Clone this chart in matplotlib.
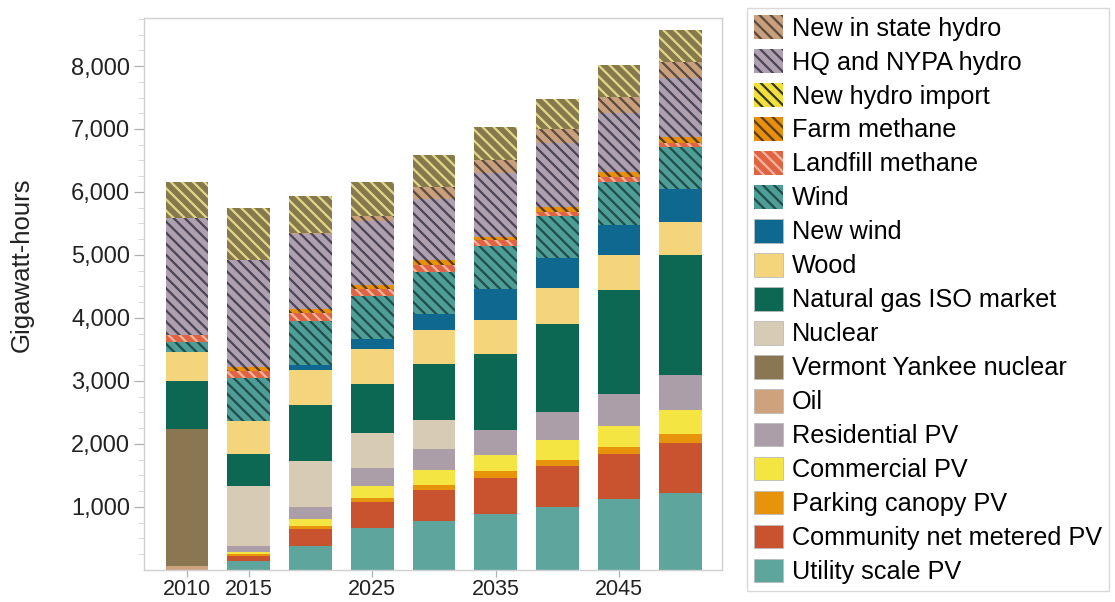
import matplotlib
matplotlib.use("Agg")
import matplotlib.pyplot as plt
from matplotlib.patches import Patch
import numpy as np

plt.rcParams['font.family'] = ['Liberation Sans', 'DejaVu Sans']
plt.rcParams['hatch.linewidth'] = 1.6

years = [2010, 2015, 2020, 2025, 2030, 2035, 2040, 2045, 2050]
tick_years = [2010, 2015, 2025, 2035, 2045]

# GWh per source, bottom of the stack first
utility = [0, 138, 386, 661, 770, 888, 1005, 1123, 1223]
community = [0, 90, 265, 413, 494, 570, 647, 717, 793]
parking = [0, 26, 42, 64, 88, 106, 100, 106, 147]
commercial = [0, 37, 117, 200, 235, 258, 317, 346, 382]
residential = [0, 95, 185, 281, 341, 400, 435, 506, 547]
oil = [60, 0, 0, 0, 0, 0, 0, 0, 0]
vy_nuclear = [2178, 0, 0, 0, 0, 0, 0, 0, 0]
nuclear = [0, 950, 730, 550, 458, 0, 0, 0, 0]
natural_gas = [757, 498, 894, 783, 876, 1205, 1405, 1646, 1910]
wood = [460, 534, 556, 556, 547, 547, 564, 552, 529]
new_wind = [0, 0, 84, 159, 247, 493, 482, 488, 512]
wind = [169, 678, 699, 687, 676, 676, 664, 676, 664]
landfill = [111, 110, 120, 110, 106, 90, 71, 71, 70]
farm = [0, 59, 65, 65, 88, 57, 76, 88, 89]
hq_nypa = [1852, 1708, 1190, 1016, 970, 1017, 1011, 929, 940]
new_in_state = [0, 0, 20, 69, 176, 206, 218, 264, 265]
hydro_import = [567, 816, 578, 550, 511, 511, 488, 500, 499]

# (values, face colour, hatch colour or None)
layers = [
    (utility, '#5ea59d', None),
    (community, '#c9532f', None),
    (parking, '#e8930c', None),
    (commercial, '#f4e542', None),
    (residential, '#ab9ea8', None),
    (oil, '#cfa27e', None),
    (vy_nuclear, '#8a7650', None),
    (nuclear, '#d8cbb3', None),
    (natural_gas, '#0d6853', None),
    (wood, '#f5d57c', None),
    (new_wind, '#0f6890', None),
    (wind, '#4e9d96', '#1f4d4a'),
    (landfill, '#de6444', '#f4b49c'),
    (farm, '#e8900c', '#5a3a10'),
    (hq_nypa, '#aea0ae', '#4a4456'),
    (new_in_state, '#c9a07e', '#5c4a3c'),
    (hydro_import, '#867a4c', '#e2d68a'),
]

fig = plt.figure(figsize=(11.15, 6.02), dpi=100)
ax = fig.add_axes([0.1291, 0.0532, 0.5184, 0.9169])

bottom = np.zeros(len(years))
for vals, face, hcol in layers:
    vals = np.array(vals, dtype=float)
    if hcol is None:
        ax.bar(years, vals, width=3.46, bottom=bottom, color=face, linewidth=0)
    else:
        ax.bar(years, vals, width=3.46, bottom=bottom, color=face,
               edgecolor=hcol, hatch='\\\\\\', linewidth=0)
    bottom += vals

ax.set_xlim(2006.5, 2053.35)
ax.set_ylim(0, 8762)
ax.set_xticks(tick_years)
ax.set_xticklabels([str(y) for y in tick_years])
ax.set_yticks(range(1000, 9000, 1000))
ax.set_yticklabels(['{:,}'.format(v) for v in range(1000, 9000, 1000)])
ax.set_yticks(np.arange(250, 8762, 250), minor=True)
ax.tick_params(axis='x', which='major', labelsize=15.5, colors='#b0b0b0',
               labelcolor='#222222', length=5, width=0.9, pad=1.5)
ax.tick_params(axis='y', which='major', labelsize=17, colors='#b0b0b0',
               labelcolor='#222222', length=7, width=0.9, pad=3)
ax.tick_params(axis='y', which='minor', colors='#d8d8d8', length=4, width=0.7)
for sp in ax.spines.values():
    sp.set_color('#d0d0d0')
    sp.set_linewidth(1.0)

fig.text(22 / 1115, 1 - 265 / 602, 'Gigawatt-hours', rotation=90, fontsize=18.5,
         color='#222222', ha='center', va='center')

# legend, top entry first
legend_items = [
    ('New in state hydro', '#c9a07e', '#5c4a3c'),
    ('HQ and NYPA hydro', '#aea0ae', '#4a4456'),
    ('New hydro import', '#f0e23a', '#3a3520'),
    ('Farm methane', '#e8900c', '#5a3a10'),
    ('Landfill methane', '#de6444', '#f4b49c'),
    ('Wind', '#4e9d96', '#1f4d4a'),
    ('New wind', '#0f6890', None),
    ('Wood', '#f5d57c', None),
    ('Natural gas ISO market', '#0d6853', None),
    ('Nuclear', '#d8cbb3', None),
    ('Vermont Yankee nuclear', '#8a7650', None),
    ('Oil', '#cfa27e', None),
    ('Residential PV', '#ab9ea8', None),
    ('Commercial PV', '#f4e542', None),
    ('Parking canopy PV', '#e8930c', None),
    ('Community net metered PV', '#c9532f', None),
    ('Utility scale PV', '#5ea59d', None),
]
handles = []
for name, face, hcol in legend_items:
    if hcol is None:
        handles.append(Patch(facecolor=face, edgecolor='#bbbbbb', linewidth=0.6, label=name))
    else:
        handles.append(Patch(facecolor=face, edgecolor=hcol, hatch='\\\\\\', linewidth=0, label=name))

leg = fig.legend(handles=handles, loc='upper left', bbox_to_anchor=(0.670, 0.9867),
                 fontsize=18.2, frameon=True, fancybox=False, handlelength=1.15,
                 handleheight=1.07, labelspacing=0.335, handletextpad=0.35,
                 borderpad=0.28, borderaxespad=0)
leg.get_frame().set_edgecolor('#d0d0d0')
leg.get_frame().set_linewidth(1.0)

fig.savefig('out.png', dpi=100)
